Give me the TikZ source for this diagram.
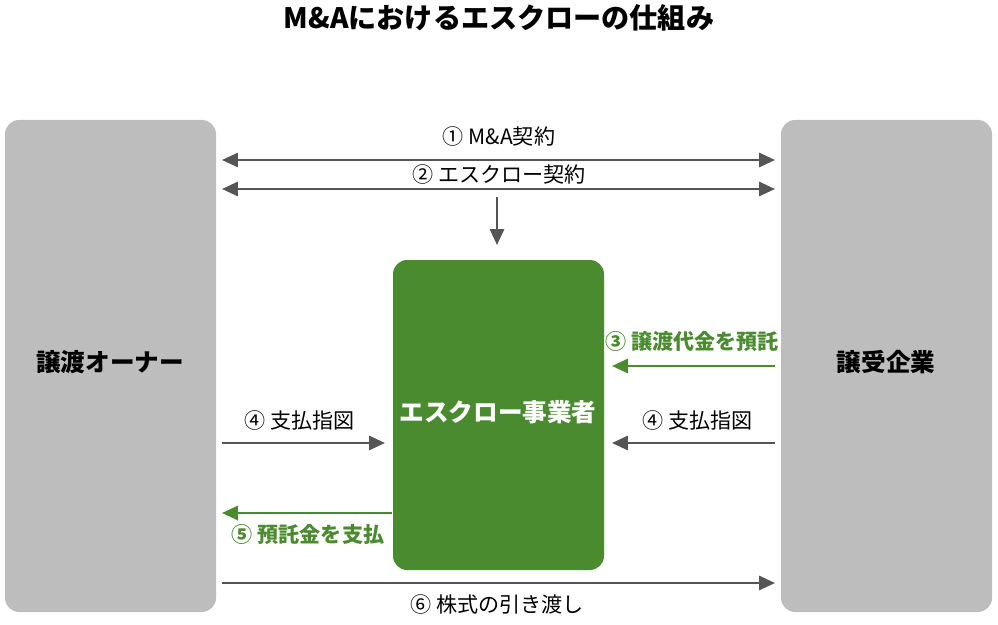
\documentclass[tikz,border=0pt]{standalone}
\usepackage{fontspec}
\setmainfont{Noto Sans CJK JP}
\usetikzlibrary{arrows.meta,positioning}
\definecolor{boxgray}{HTML}{BDBDBD}
\definecolor{escgreen}{HTML}{4B8B2F}
\definecolor{arrgray}{HTML}{555555}
\begin{document}
\begin{tikzpicture}[x=0.02cm,y=-0.02cm,
   party/.style={fill=boxgray,rounded corners=8pt},
   flow/.style={-{Triangle[length=9pt,width=8pt]},line width=1.4pt,draw=arrgray},
   both/.style={flow,{Triangle[length=9pt,width=8pt]}-{Triangle[length=9pt,width=8pt]}},
   money/.style={flow,draw=escgreen,fill=escgreen},
   lbl/.style={font=\fontsize{12}{14}\selectfont,text=black},
   glbl/.style={font=\bfseries\fontsize{12}{14}\selectfont,text=escgreen}]
   \useasboundingbox (0,0) rectangle (998,625);
   \node[font=\bfseries\fontsize{16}{19}\selectfont] (title) at (499,18) {M\&Aにおけるエスクローの仕組み};
   \fill[party] (5,120) rectangle (216,612);
   \fill[party] (781,120) rectangle (992,612);
   \fill[escgreen,rounded corners=8pt] (393,260) rectangle (604,570);
   \node[font=\bfseries\fontsize{14}{17}\selectfont] (owner) at (110,362) {譲渡オーナー};
   \node[font=\bfseries\fontsize{14}{17}\selectfont] (buyer) at (886,362) {譲受企業};
   \node[font=\bfseries\fontsize{14}{17}\selectfont,text=white] (agent) at (498,412) {エスクロー事業者};
   % coordinates for the connector ends
   \coordinate (l1) at (222,160); \coordinate (r1) at (775,160);
   \coordinate (l2) at (222,189); \coordinate (r2) at (775,189);
   \coordinate (d1) at (497,197); \coordinate (d2) at (497,245);
   \coordinate (l3) at (612,366); \coordinate (r3) at (775,366);
   \coordinate (l4) at (222,443); \coordinate (m4) at (385,443);
   \coordinate (n4) at (612,443); \coordinate (r4) at (775,443);
   \coordinate (l5) at (222,513); \coordinate (m5) at (392,513);
   \coordinate (l6) at (222,583); \coordinate (r6) at (775,583);
   \draw[both] (l1) -- (r1);
   \draw[both] (l2) -- (r2);
   \draw[flow] (d1) -- (d2);
   \draw[money] (r3) -- (l3);
   \draw[flow] (l4) -- (m4);
   \draw[flow] (r4) -- (n4);
   \draw[money] (m5) -- (l5);
   \draw[flow] (l6) -- (r6);
   \node[lbl] at (499,136) {① M\&A契約};
   \node[lbl] at (499,174) {② エスクロー契約};
   \node[glbl] at (692,341) {③ 譲渡代金を預託};
   \node[lbl] at (300,420) {④ 支払指図};
   \node[lbl] at (698,420) {④ 支払指図};
   \node[glbl] at (308,534) {⑤ 預託金を支払};
   \node[lbl] at (497,604) {⑥ 株式の引き渡し};
\end{tikzpicture}
\end{document}
